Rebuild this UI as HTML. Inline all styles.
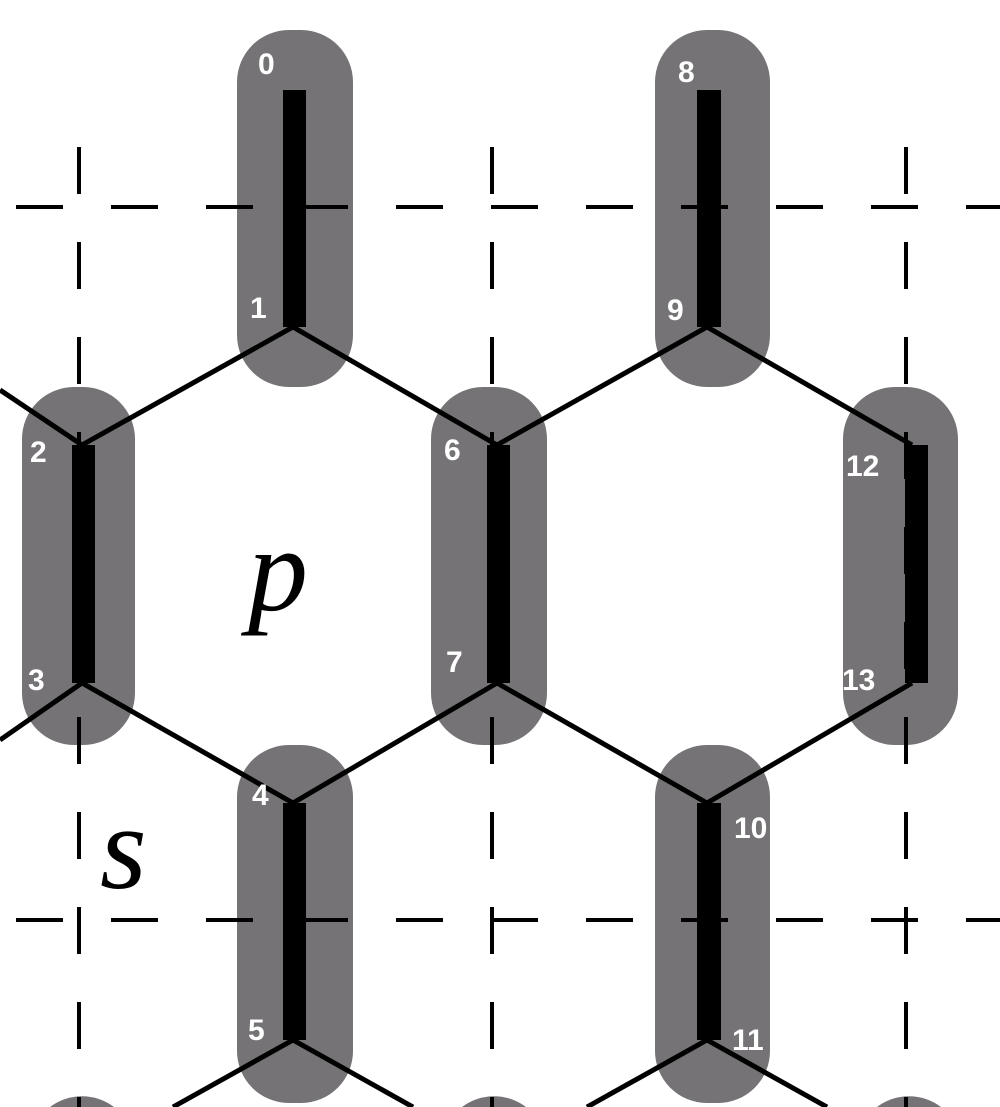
<!DOCTYPE html>
<html><head><meta charset="utf-8"><style>
html,body{margin:0;padding:0;background:#fff;width:1000px;height:1107px;overflow:hidden;}
svg{display:block;overflow:hidden;}
.lbl{font-family:"Liberation Sans",sans-serif;font-weight:bold;font-size:30px;fill:#fff;}
</style></head><body>
<svg width="1000" height="1107" viewBox="0 0 1000 1107">
<defs><clipPath id="frame"><rect x="0" y="0" width="1000" height="1107"/></clipPath></defs>
<g clip-path="url(#frame)">
<g fill="#757376">
<rect x="237" y="30" width="116" height="357" rx="52"/>
<rect x="655" y="30" width="115" height="357" rx="52"/>
<rect x="22" y="387" width="113" height="358" rx="52"/>
<rect x="431" y="387" width="116" height="358" rx="52"/>
<rect x="843" y="387" width="115" height="358" rx="52"/>
<rect x="237" y="745" width="116" height="358" rx="52"/>
<rect x="655" y="745" width="115" height="358" rx="52"/>
<path d="M50,1107 A53,53 0 0 1 114,1107 Z"/>
<path d="M462,1107 A53,53 0 0 1 526,1107 Z"/>
<path d="M877,1107 A53,53 0 0 1 941,1107 Z"/>
</g>
<g stroke="#000" stroke-width="4" stroke-dasharray="47 48">
<line x1="16" y1="207" x2="1000" y2="207"/>
<line x1="16" y1="920" x2="1000" y2="920"/>
<line x1="79" y1="147" x2="79" y2="1107"/>
<line x1="492" y1="147" x2="492" y2="1107"/>
<line x1="906" y1="147" x2="906" y2="1107"/>
</g>
<g stroke="#000" stroke-width="5" fill="none">
<polyline points="0,390 82,445 293,327 497,445 707,327 912,445"/>
<polyline points="0,740 82,683 293,803 497,683 707,803 912,683"/>
<polyline points="173,1107 293,1040 413,1107"/>
<polyline points="587,1107 707,1040 827,1107"/>
</g>
<g fill="#000">
<rect x="283" y="90" width="23" height="237"/>
<rect x="697" y="90" width="24" height="237"/>
<rect x="72" y="445" width="23" height="238"/>
<rect x="487" y="445" width="23" height="238"/>
<rect x="905" y="445" width="23" height="238"/>
<rect x="283" y="803" width="23" height="237"/>
<rect x="697" y="803" width="24" height="237"/>
</g>
<g class="lbl">
<text x="258" y="74">0</text>
<text x="250" y="318">1</text>
<text x="30" y="462">2</text>
<text x="28" y="690">3</text>
<text x="252" y="805">4</text>
<text x="248" y="1040">5</text>
<text x="444" y="460">6</text>
<text x="446" y="672">7</text>
<text x="678" y="82">8</text>
<text x="667" y="320">9</text>
<text x="734" y="838">10</text>
<text x="732" y="1050">11</text>
<text x="846" y="476">12</text>
<text x="842" y="690">13</text>
</g>
<text x="248" y="610" font-family="Liberation Serif,serif" font-style="italic" font-size="120" fill="#000">p</text>
<text x="100" y="888" font-family="Liberation Serif,serif" font-style="italic" font-size="120" fill="#000">s</text>
</g>
</svg>
</body></html>
